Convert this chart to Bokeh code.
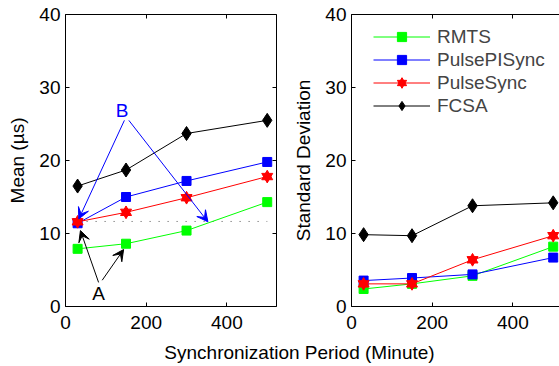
from bokeh.plotting import figure
from bokeh.models import (LinearAxis, Range1d, FixedTicker, Arrow, VeeHead,
                          Legend, LegendItem, Label)
from bokeh.layouts import column, row
from bokeh.core.properties import value
from bokeh.embed import file_html
from bokeh.resources import INLINE

# ---------------- data ----------------
periods = [30, 150, 300, 500]
series_names = ["RMTS", "PulsePISync", "PulseSync", "FCSA"]
mean_rmts = [7.9, 8.6, 10.4, 14.3]
mean_pulsepisync = [11.4, 15.0, 17.2, 19.8]
mean_pulsesync = [11.6, 12.9, 14.9, 17.8]
mean_fcsa = [16.5, 18.7, 23.7, 25.5]
std_rmts = [2.4, 3.1, 4.2, 8.2]
std_pulsepisync = [3.55, 3.9, 4.4, 6.7]
std_pulsesync = [3.1, 3.1, 6.4, 9.7]
std_fcsa = [9.84, 9.7, 13.8, 14.2]
ref_x = [30, 500]
ref_level = [11.65, 11.65]
x_ticks = [0, 200, 400]
y_ticks = [0, 10, 20, 30, 40]
x_label = "Synchronization Period (Minute)"
mean_label = "Mean (\u00b5s)"
std_label = "Standard Deviation"

FONT = "Liberation Sans"
FS = "19px"
colors = ["#00ff00", "#0000ff", "#ff0000", "#000000"]

TOP = 14
FRAME_H = 292
BOTTOM = 34
ROW_H = TOP + FRAME_H + BOTTOM
LABEL_H = 366 - ROW_H


def style_axis(ax, ticks, labels=True):
    ax.ticker = FixedTicker(ticks=ticks)
    ax.major_tick_in = 4
    ax.major_tick_out = 0
    ax.minor_tick_in = 0
    ax.minor_tick_out = 0
    ax.axis_line_color = "black"
    ax.major_tick_line_color = "black"
    ax.major_label_text_font = FONT
    ax.major_label_text_font_size = FS
    ax.major_label_text_color = "black"
    ax.axis_label_text_font = FONT
    ax.axis_label_text_font_size = FS
    ax.axis_label_text_font_style = "normal"
    ax.axis_label_text_color = "black"
    if not labels:
        ax.major_label_text_font_size = "1px"
        ax.major_label_text_alpha = 0
        ax.major_label_standoff = 0


def make_fig(width, x_end, min_left, min_right, ylabel, right_axis):
    p = figure(width=width, height=ROW_H, title=None,
               x_range=Range1d(0, x_end), y_range=Range1d(0, 40),
               min_border_left=min_left, min_border_right=min_right,
               min_border_top=TOP, min_border_bottom=BOTTOM,
               output_backend="svg", toolbar_location=None,
               outline_line_color=None, background_fill_color="white")
    p.grid.visible = False
    style_axis(p.xaxis[0], x_ticks)
    p.xaxis[0].major_label_standoff = 9
    style_axis(p.yaxis[0], y_ticks)
    p.yaxis[0].major_label_standoff = 5
    p.yaxis[0].axis_label = ylabel
    p.yaxis[0].axis_label_standoff = 8
    top = LinearAxis()
    style_axis(top, x_ticks, labels=False)
    p.add_layout(top, "above")
    if right_axis:
        r = LinearAxis()
        style_axis(r, y_ticks, labels=False)
        p.add_layout(r, "right")
    return p


def draw_series(p, ys_list):
    items = []
    for name, ys, c in zip(series_names, ys_list, colors):
        ln = p.line(periods, ys, line_color=c, line_width=1)
        rs = [ln]
        if name in ("RMTS", "PulsePISync"):
            rs.append(p.scatter(periods, ys, marker="square", size=9,
                                fill_color=c, line_color=c))
        elif name == "PulseSync":
            rs.append(p.scatter(periods, ys, marker="triangle", size=11,
                                fill_color=c, line_color=c))
            rs.append(p.scatter(periods, ys, marker="inverted_triangle", size=11,
                                fill_color=c, line_color=c))
        else:
            rs.append(p.scatter(periods, ys, marker="diamond", size=14,
                                fill_color=c, line_color=c))
        items.append(LegendItem(label=name, renderers=rs))
    return items


# ---------------- left: mean ----------------
p1 = make_fig(286, 523, 65, 10, mean_label, True)
p1.line(ref_x, ref_level, line_color="#555555", line_width=1, line_dash="1 8")
draw_series(p1, [mean_rmts, mean_pulsepisync, mean_pulsesync, mean_fcsa])

for (xs, ys, xe, ye, c) in [(82, 3.3, 37, 10.4, "black"),
                             (91, 3.6, 144, 7.8, "black"),
                             (146, 25.5, 33, 12.0, "blue"),
                             (157, 25.5, 353, 11.6, "blue")]:
    p1.add_layout(Arrow(end=VeeHead(size=11, fill_color=c, line_color=c, line_width=1),
                        x_start=xs, y_start=ys, x_end=xe, y_end=ye,
                        line_color=c, line_width=1))
p1.add_layout(Label(x=82, y=1.8, text="A", text_align="center", text_baseline="middle",
                    text_font=FONT, text_font_size=FS, text_color="black"))
p1.add_layout(Label(x=140, y=26.8, text="B", text_align="center", text_baseline="middle",
                    text_font=FONT, text_font_size=FS, text_color="blue"))

# ---------------- right: std ----------------
p2 = make_fig(273, 515.6, 65, 0, std_label, False)
items = draw_series(p2, [std_rmts, std_pulsepisync, std_pulsesync, std_fcsa])
leg = Legend(items=items, location=(22, 189), border_line_color=None,
             background_fill_alpha=0, label_text_font=FONT, label_text_font_size=FS,
             glyph_width=57, glyph_height=23, label_height=23, spacing=0,
             padding=0, margin=0, label_standoff=7)
p2.add_layout(leg, "center")

# ---------------- shared x label ----------------
p3 = figure(width=559, height=LABEL_H, title=None,
            x_range=Range1d(0, 559), y_range=Range1d(0, LABEL_H),
            x_axis_type=None, y_axis_type=None, min_border=0,
            output_backend="svg", toolbar_location=None, outline_line_color=None)
p3.grid.visible = False
p3.text(x=[299], y=[LABEL_H - 12], text=[x_label], text_align="center",
        text_baseline="middle",
        text_font=value(FONT), text_font_size=FS, text_color="black")

layout = column(row(p1, p2), p3)
open("out.html", "w").write(file_html(layout, INLINE))
